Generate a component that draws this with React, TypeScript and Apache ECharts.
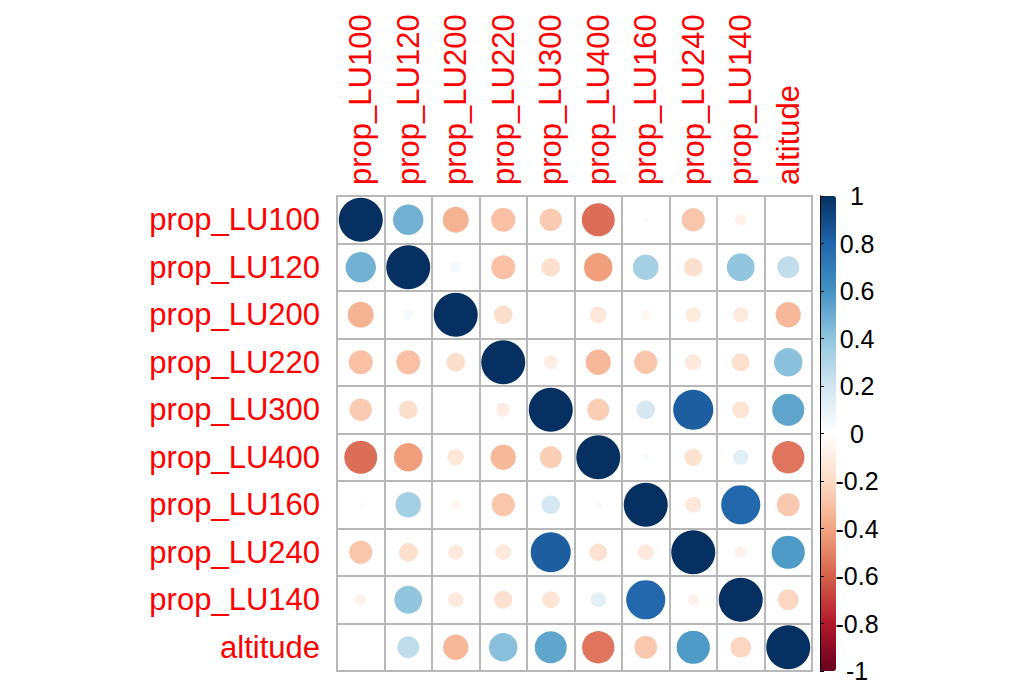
import React, { useEffect, useRef } from "react";
import * as echarts from "echarts";

const vars = ["prop_LU100", "prop_LU120", "prop_LU200", "prop_LU220", "prop_LU300", "prop_LU400", "prop_LU160", "prop_LU240", "prop_LU140", "altitude"];

const rowLU100 = [1, 0.48, -0.35, -0.3, -0.26, -0.56, 0.02, -0.28, -0.07, 0.01];
const rowLU120 = [0.48, 1, 0.05, -0.3, -0.18, -0.42, 0.34, -0.18, 0.4, 0.25];
const rowLU200 = [-0.35, 0.05, 1, -0.18, -0.01, -0.14, -0.05, -0.12, -0.12, -0.33];
const rowLU220 = [-0.3, -0.3, -0.18, 1, -0.1, -0.33, -0.28, -0.13, -0.17, 0.42];
const rowLU300 = [-0.26, -0.18, -0.01, -0.1, 1, -0.25, 0.18, 0.83, -0.15, 0.53];
const rowLU400 = [-0.56, -0.42, -0.14, -0.33, -0.25, 1, 0.03, -0.16, 0.12, -0.54];
const rowLU160 = [0.02, 0.34, -0.05, -0.28, 0.18, 0.03, 1, -0.13, 0.79, -0.27];
const rowLU240 = [-0.28, -0.18, -0.12, -0.13, 0.83, -0.16, -0.13, 1, -0.07, 0.57];
const rowLU140 = [-0.07, 0.4, -0.12, -0.17, -0.15, 0.12, 0.79, -0.07, 1, -0.22];
const rowAltitude = [0.01, 0.25, -0.33, 0.42, 0.53, -0.54, -0.27, 0.57, -0.22, 1];

const rows = [rowLU100, rowLU120, rowLU200, rowLU220, rowLU300, rowLU400, rowLU160, rowLU240, rowLU140, rowAltitude];

const colorbarTicks = ["-1", "-0.8", "-0.6", "-0.4", "-0.2", "0", "0.2", "0.4", "0.6", "0.8", "1"];

const palette = ["#67001F", "#B2182B", "#D6604D", "#F4A582", "#FDDBC7", "#FFFFFF", "#D1E5F0", "#92C5DE", "#4393C3", "#2166AC", "#053061"];

const FONT = "Liberation Sans, Arial, sans-serif";

export default function App() {
  const ref = useRef<HTMLDivElement>(null);
  useEffect(() => {
    document.body.style.margin = "0";
    const chart = echarts.init(ref.current!, null, { renderer: "svg" });
    const data: number[][] = [];
    rows.forEach((row, yi) => row.forEach((v, xi) => data.push([xi, yi, v])));
    const gridLine = { show: true, interval: 0, lineStyle: { color: "#b8b8b8", width: 2 } };
    chart.setOption({
      animation: false,
      backgroundColor: "#ffffff",
      grid: [
        { left: 337, top: 196, width: 475, height: 475, show: true, borderColor: "#b8b8b8", borderWidth: 2, backgroundColor: "transparent" },
        { left: 820, top: 196, width: 16, height: 475, show: false },
      ],
      xAxis: [
        {
          type: "category", data: vars, position: "top", gridIndex: 0,
          axisLine: { show: false }, axisTick: { show: false },
          axisLabel: { rotate: -90, color: "#ff0000", fontSize: 31, fontFamily: FONT, margin: 11, interval: 0 },
          splitLine: gridLine,
        },
        { type: "value", gridIndex: 1, show: false, min: 0, max: 1 },
      ],
      yAxis: [
        {
          type: "category", data: vars, inverse: true, gridIndex: 0,
          axisLine: { show: false }, axisTick: { show: false },
          axisLabel: { color: "#ff0000", fontSize: 31, fontFamily: FONT, margin: 17, interval: 0 },
          splitLine: gridLine,
        },
        {
          type: "value", gridIndex: 1, min: -1, max: 1, interval: 0.2, position: "right", z: 10,
          axisLine: { show: true, lineStyle: { color: "#000", width: 1 } },
          axisTick: { show: true, length: 4, lineStyle: { color: "#000" } },
          axisLabel: {
            align: "center", margin: 21, fontSize: 25, fontFamily: FONT, color: "#000",
            showMinLabel: true, showMaxLabel: true,
            formatter: (v: number) => colorbarTicks[Math.round((v + 1) / 0.2)],
          },
          splitLine: { show: false },
        },
        {
          type: "value", gridIndex: 1, min: -1, max: 1, position: "left", z: 10,
          axisLine: { show: true, lineStyle: { color: "#000", width: 1 } },
          axisTick: { show: false }, axisLabel: { show: false }, splitLine: { show: false },
        },
      ],
      visualMap: {
        type: "continuous", min: -1, max: 1, dimension: 2, seriesIndex: 0,
        calculable: false, orient: "vertical", left: 820, top: 196,
        itemWidth: 16, itemHeight: 475, padding: 0,
        inRange: { color: palette },
      },
      series: [
        {
          type: "scatter", xAxisIndex: 0, yAxisIndex: 0, data,
          symbol: "circle",
          symbolSize: (v: number[]) => 44 * Math.sqrt(Math.abs(v[2])),
          itemStyle: { opacity: 1 },
        },
      ],
    });
    return () => chart.dispose();
  }, []);
  return <div ref={ref} style={{ width: 1024, height: 690 }} />;
}
